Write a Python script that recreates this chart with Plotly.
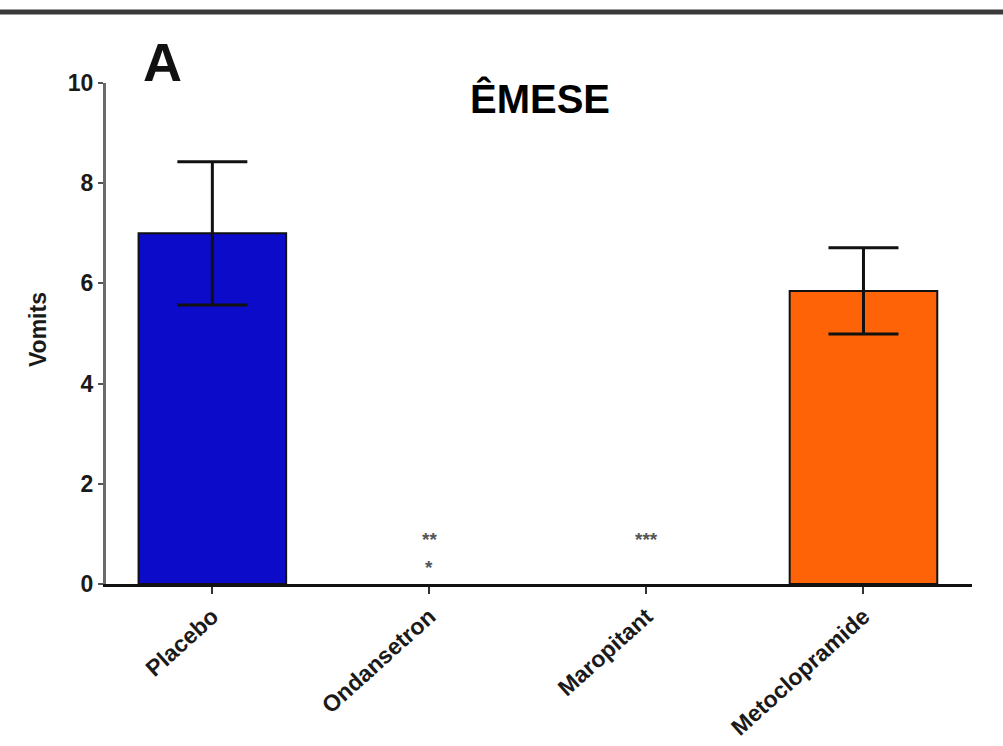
import plotly.graph_objects as go

# Vomiting episodes per treatment group (mean ± SEM)
groups = ["Placebo", "Ondansetron", "Maropitant", "Metoclopramide"]
vomits = [7.0, 0.0, 0.0, 5.85]
sem = [1.43, 0.0, 0.0, 0.86]
bar_colors = ["#0b0bc9", "#ffffff", "#ffffff", "#ff6308"]

# significance marks: (group, text, height in data units)
sig_marks = [
    ("Ondansetron", "**", 0.88),
    ("Ondansetron", "*", 0.32),
    ("Maropitant", "***", 0.88),
]

y_ticks = [0, 2, 4, 6, 8, 10]

FONT = "Liberation Sans, Arial, sans-serif"

# groups with a spread get a bar with whiskers; zero groups get nothing drawn
idx = [i for i, v in enumerate(vomits) if v > 0]

fig = go.Figure()
fig.add_trace(go.Bar(
    x=[groups[i] for i in idx],
    y=[vomits[i] for i in idx],
    width=0.68,
    marker=dict(color=[bar_colors[i] for i in idx],
                line=dict(color="#111111", width=2)),
    error_y=dict(type="data", array=[sem[i] for i in idx], visible=True,
                 color="#111111", thickness=3, width=35),
    showlegend=False,
))

for g, s, h in sig_marks:
    fig.add_annotation(
        x=g, y=h, xref="x", yref="y", text=s, showarrow=False,
        xanchor="center", yanchor="middle",
        font=dict(family=FONT, size=19, weight="bold", color="#555555"),
    )

fig.update_layout(
    width=1003, height=746,
    margin=dict(l=106, r=31, t=83, b=162),
    paper_bgcolor="white", plot_bgcolor="white",
    font=dict(family=FONT, color="#111111"),
    xaxis=dict(
        type="category", categoryorder="array", categoryarray=groups,
        range=[-0.49, 3.5], automargin=False,
        showline=True, linecolor="#111111", linewidth=3,
        ticks="outside", ticklen=7, tickwidth=2, tickcolor="#333333",
        tickmode="array", tickvals=groups, ticktext=groups,
        tickangle=-42, showgrid=False, zeroline=False,
        tickfont=dict(family=FONT, size=23, weight="bold", color="#1a1a1a"),
    ),
    yaxis=dict(
        range=[0, 10], automargin=False,
        tickvals=y_ticks,
        showline=True, linecolor="#6a6a6a", linewidth=3,
        ticks="outside", ticklen=5, tickwidth=2, tickcolor="#555555",
        showgrid=False, zeroline=False,
        tickfont=dict(family=FONT, size=23, weight="bold", color="#1a1a1a"),
    ),
)

# panel letter, title and y-axis label
fig.add_annotation(x=0.0647, y=1.042, xref="paper", yref="paper", text="A",
                   xanchor="center", yanchor="middle", showarrow=False,
                   font=dict(family=FONT, size=54, weight="bold", color="#111111"))
fig.add_annotation(x=0.501, y=0.970, xref="paper", yref="paper", text="ÊMESE",
                   xanchor="center", yanchor="middle", showarrow=False,
                   font=dict(family=FONT, size=40, weight="bold", color="#000000"))
fig.add_annotation(x=-0.0785, y=0.507, xref="paper", yref="paper", text="Vomits",
                   xanchor="center", yanchor="middle", textangle=-90, showarrow=False,
                   font=dict(family=FONT, size=23, weight="bold", color="#1a1a1a"))

# rule across the top of the figure
fig.add_shape(type="line", xref="paper", yref="paper", x0=-0.2, x1=1.1,
              y0=1.1417, y1=1.1417, line=dict(color="#3a3a3a", width=5))

fig.write_html("out.html")
